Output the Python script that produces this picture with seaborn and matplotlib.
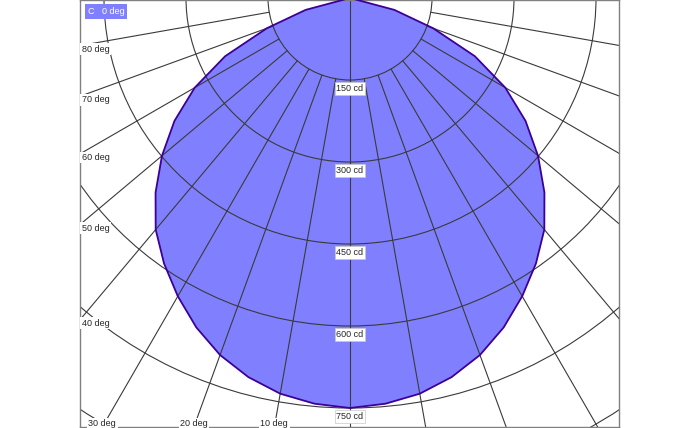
import numpy as np
import matplotlib
matplotlib.use("Agg")
import matplotlib.pyplot as plt
from matplotlib.patches import Circle
import seaborn as sns
import pandas as pd

# luminous intensity distribution, C0 plane (symmetric)
gamma = [0, 5, 10, 15, 20, 25, 30, 35, 40, 45, 50, 55, 60, 65, 70, 75, 80, 85, 90]
intensity = [750, 745, 735, 718, 695, 665, 630, 593, 553, 503, 449, 392, 328, 252, 162, 84, 0, 0, 0]

rings = [150, 300, 450, 600, 750, 900]
ring_labels = [150, 300, 450, 600, 750]
spokes = [10, 20, 30, 40, 50, 60, 70, 80]
plane_label = "C   0 deg"

sns.set_style("white")
plt.rcParams['font.family'] = ['Liberation Sans', 'DejaVu Sans']

px = 150 / 82  # cd per pixel
x_lo, x_hi = -270 * px, 269 * px
y_hi, y_lo = -2 * px, -429 * px

# build the closed curve from -90 to +90 deg
ang = [-g for g in gamma[::-1]] + gamma[1:]
val = intensity[::-1] + intensity[1:]
df = pd.DataFrame({"gamma": ang, "I": val})
df["x"] = df["I"] * np.sin(np.radians(df["gamma"]))
df["y"] = -df["I"] * np.cos(np.radians(df["gamma"]))

fig = plt.figure(figsize=(7, 4.28), dpi=100)
ax = fig.add_axes([80 / 700, 1 / 428, 539 / 700, 427 / 428])
ax.set_xlim(x_lo, x_hi)
ax.set_ylim(y_lo, y_hi)

ax.fill(df["x"], df["y"], color="#8080ff", lw=0, zorder=1)

grid_col = "#3a3a3a"
for r in rings:
    ax.add_patch(Circle((0, 0), r, fill=False, ec=grid_col, lw=0.8, zorder=2))
for g in spokes:
    t = np.radians(g)
    for sgn in (-1, 1):
        ax.plot([sgn * 150 * np.sin(t), sgn * 1400 * np.sin(t)],
                [-150 * np.cos(t), -1400 * np.cos(t)],
                color=grid_col, lw=0.8, zorder=2)
ax.axvline(0, color=grid_col, lw=0.8, zorder=2)

sns.lineplot(data=df, x="x", y="y", sort=False, estimator=None,
             color="#3c0096", lw=1.3, zorder=4, ax=ax)

fs = 6.5
for r in ring_labels:
    ax.text(0, -(r + 15), f"{r} cd", ha="center", va="center", fontsize=fs,
            bbox=dict(boxstyle="square,pad=0.2", fc="white", ec="#c8c8c8", lw=0.5),
            zorder=5)

for g in spokes:
    t = np.radians(g)
    y_hit = x_lo / np.tan(t)
    if y_hit >= y_lo:
        ax.text(x_lo + 1.5 * px, y_hit - 3.5 * px, f"{g} deg", ha="left", va="center",
                fontsize=fs, bbox=dict(boxstyle="square,pad=0.15", fc="white", ec="none"),
                zorder=5)
    else:
        ax.text(y_lo * np.tan(t), y_lo + 3 * px, f"{g} deg", ha="center", va="center",
                fontsize=fs, bbox=dict(boxstyle="square,pad=0.15", fc="white", ec="none"),
                zorder=5, clip_on=False)

ax.text(8 / 539, 1 - 11.5 / 427, plane_label, transform=ax.transAxes, color="white",
        fontsize=fs, ha="left", va="center",
        bbox=dict(boxstyle="square,pad=0.3", fc="#8080ff", ec="none"), zorder=6)

ax.set_xticks([])
ax.set_yticks([])
ax.set_xlabel("")
ax.set_ylabel("")
for s in ax.spines.values():
    s.set_color("#808080")
    s.set_linewidth(1)
    s.set_visible(True)

fig.savefig("out.png", dpi=100)
